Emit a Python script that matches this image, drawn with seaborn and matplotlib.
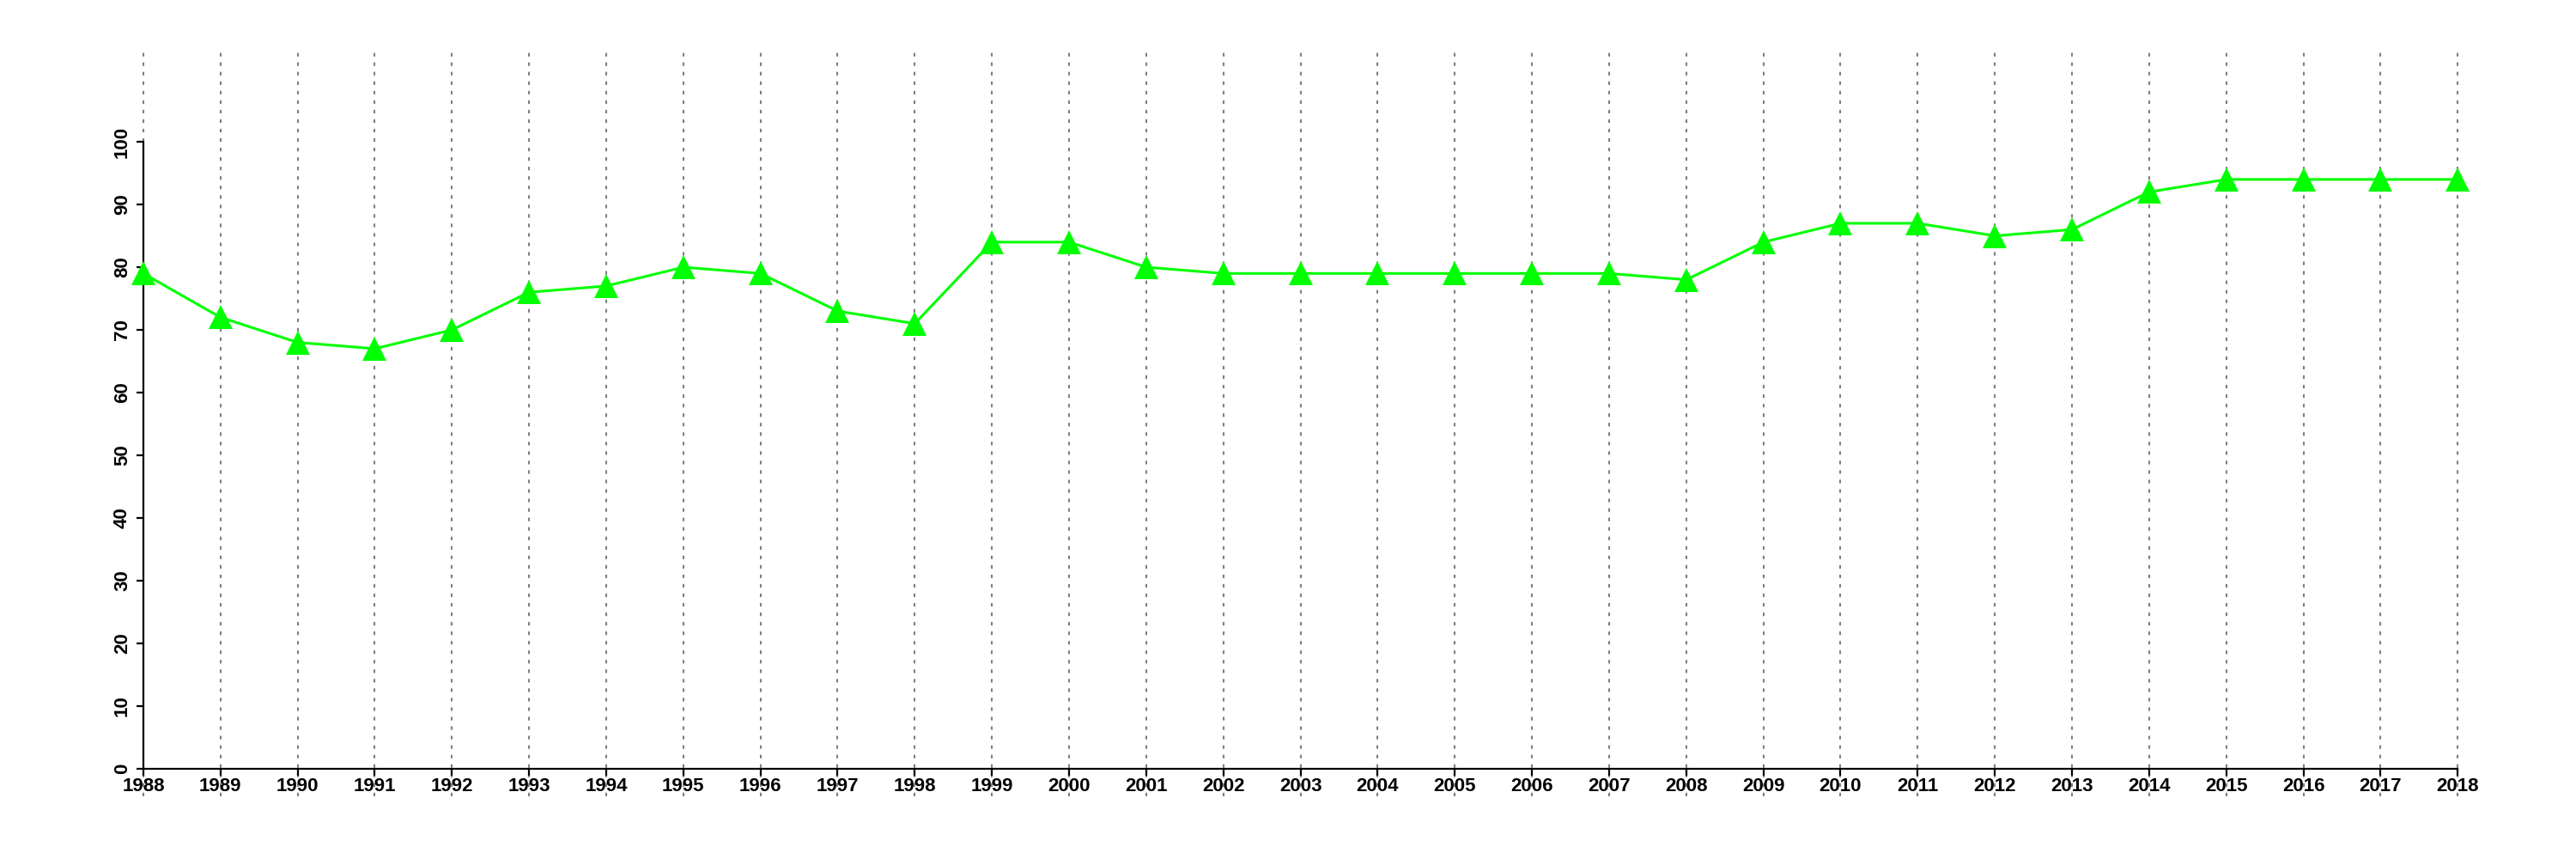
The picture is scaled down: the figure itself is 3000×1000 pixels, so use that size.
import matplotlib
matplotlib.use('Agg')
import matplotlib.pyplot as plt
import seaborn as sns
import pandas as pd

years = list(range(1988, 2019))
values = [79, 72, 68, 67, 70, 76, 77, 80, 79, 73, 71, 84, 84, 80, 79, 79,
          79, 79, 79, 79, 78, 84, 87, 87, 85, 86, 92, 94, 94, 94, 94]
y_ticks = [0, 10, 20, 30, 40, 50, 60, 70, 80, 90, 100]


def main():
    df = pd.DataFrame({'year': years, 'value': values})

    sns.set_theme(style='ticks')
    plt.rcParams['font.family'] = ['Liberation Sans', 'DejaVu Sans']

    fig = plt.figure(figsize=(30, 10), dpi=100)
    ax = fig.add_axes([0.0197, 0.073, 0.9703, 0.867])

    sns.lineplot(data=df, x='year', y='value', color='#00ff00', linewidth=2.2,
                 marker='^', markersize=20, markeredgewidth=0, ax=ax, zorder=3)

    ax.set_xlim(1988 - 1.2, 2018 + 1.2)
    ax.set_ylim(-4.4, 114.4)
    ax.set_xticks(years)
    ax.set_yticks(y_ticks)

    ax.grid(axis='x', color='#808080', linewidth=1.5, linestyle=(0, (2, 3.3)))
    ax.grid(axis='y', visible=False)

    for side in ['top', 'right']:
        ax.spines[side].set_visible(False)
    ax.spines['left'].set_position(('data', 1988))
    ax.spines['bottom'].set_position(('data', 0))
    ax.spines['left'].set_bounds(0, 100)
    ax.spines['bottom'].set_bounds(1988, 2018)
    for side in ['left', 'bottom']:
        ax.spines[side].set_linewidth(1.6)
        ax.spines[side].set_color('black')

    ax.tick_params(axis='both', direction='out', length=6, width=1.6,
                   colors='black', labelsize=16)
    ax.tick_params(axis='x', pad=1)
    ax.tick_params(axis='y', pad=4, labelrotation=90)
    ax.set_xticklabels([str(y) for y in years], fontweight='bold')
    ax.set_yticklabels([str(v) for v in y_ticks], fontweight='bold',
                       rotation=90, va='center')

    ax.set_xlabel('')
    ax.set_ylabel('')
    fig.savefig('out.png', dpi=100, facecolor='white')


if __name__ == '__main__':
    main()
